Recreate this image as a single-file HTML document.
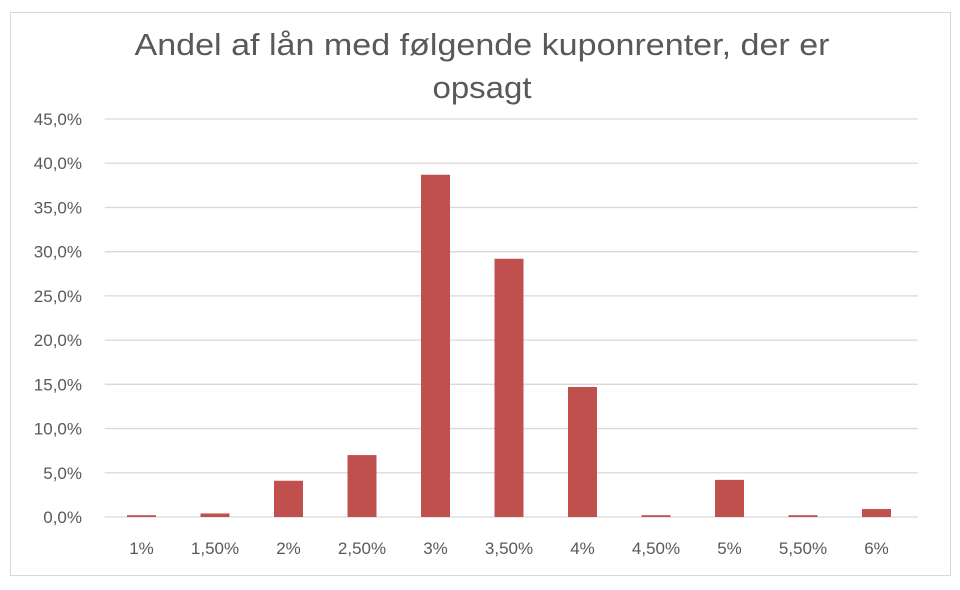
<!DOCTYPE html>
<html><head><meta charset="utf-8"><style>
body{margin:0;background:#fff;width:960px;height:585px;overflow:hidden;font-family:"Liberation Sans",sans-serif}
</style></head><body>
<svg width="960" height="585">
<rect x="10.5" y="12.5" width="940" height="563" fill="#fff" stroke="#d9d9d9"/>
<text x="482" y="55" text-anchor="middle" font-size="31" fill="#595959" textLength="695" lengthAdjust="spacingAndGlyphs">Andel af lån med følgende kuponrenter, der er</text>
<text x="482" y="98" text-anchor="middle" font-size="31" fill="#595959" textLength="99" lengthAdjust="spacingAndGlyphs">opsagt</text>
<g id="g"></g>
</svg>
<script>
const categories=["1%","1,50%","2%","2,50%","3%","3,50%","4%","4,50%","5%","5,50%","6%"];
const values=[0.2,0.4,4.1,7.0,38.7,29.2,14.7,0.2,4.2,0.2,0.9];
const yTicks=[0,5,10,15,20,25,30,35,40,45];
const yTickLabels=["0,0%","5,0%","10,0%","15,0%","20,0%","25,0%","30,0%","35,0%","40,0%","45,0%"];
const X0=104.75,X1=918,Y0=517,Y45=119;
const step=(913.25-X0)/categories.length;
const y=v=>Y0-(v/45)*(Y0-Y45);
const xc=i=>X0+step*(i+0.5);
const g=document.getElementById('g');
const NS='http://www.w3.org/2000/svg';
function mk(t,a){const e=document.createElementNS(NS,t);for(const k in a)e.setAttribute(k,a[k]);g.appendChild(e);return e;}
yTicks.forEach((t,i)=>{
  const l=mk('line',{x1:X0,x2:X1,y1:y(t),y2:y(t),stroke:'#d9d9d9','stroke-width':1.3});
  
  
  const tx=mk('text',{x:82,y:y(t)+6,'text-anchor':'end','font-size':17,fill:'#595959'});
  tx.textContent=yTickLabels[i];
  
  
});
categories.forEach((c,i)=>{
  const h=Y0-y(values[i]);
  const r=mk('rect',{x:xc(i)-14.5,y:y(values[i]),width:29,height:h,fill:'#c0504d'});
  
  
  const tx=mk('text',{x:xc(i),y:554,'text-anchor':'middle','font-size':17,fill:'#595959'});
  tx.textContent=c;
  
  
});
</script>
</body></html>
